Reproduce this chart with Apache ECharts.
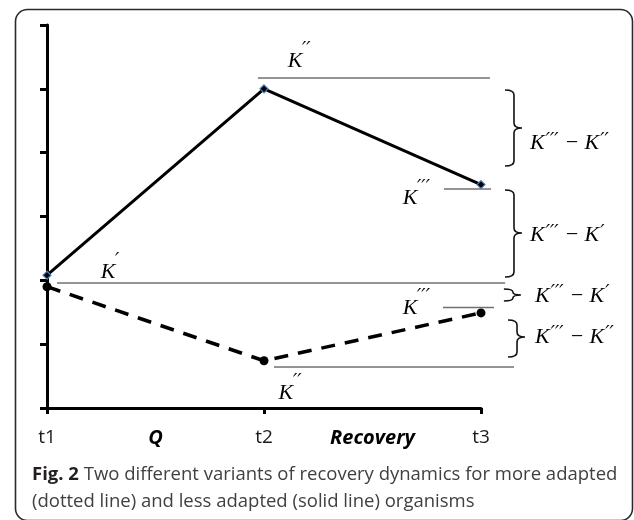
<!DOCTYPE html>
<html><head><meta charset="utf-8">
<script src="https://cdn.jsdelivr.net/npm/echarts@6/dist/echarts.min.js"></script>
<style>html,body{margin:0;padding:0;background:#fff}#c{width:634px;height:520px}</style>
</head><body><div id="c"></div>
<script>
// ---- data ----
const timePoints = ['t1', 't2', 't3'];
const timeX = [0, 1, 2];
const phaseLabels = ['Q', 'Recovery'];
const lessAdapted = [2.08, 5.0, 3.5];   // solid line
const moreAdapted = [1.90, 0.74, 1.49]; // dashed line
const yMin = 0, yMax = 6, yStep = 1;
// reference levels: [xStart, xEnd, level]
const refLines = [
  [0.972, 2.041, 5.17],
  [1.829, 2.046, 3.43],
  [0.046, 2.111, 1.958],
  [1.825, 2.060, 1.574],
  [1.046, 2.152, 0.642]
];
// K labels: [x, y, primes]
const kLabels = [
  [1.143, 5.43, 2],
  [0.281, 2.13, 1],
  [1.673, 3.28, 3],
  [1.673, 1.57, 3],
  [1.101, 0.235, 2]
];
// braces: [x, yTop, yBottom, yTip]
const braces = [
  [2.152, 4.982, 3.791, 4.387],
  [2.152, 3.415, 2.052, 2.742],
  [2.147, 1.864, 1.676, 1.770],
  [2.166, 1.379, 0.799, 1.112]
];
// difference labels: [x, y, primes of first K, primes of second K]
const diffLabels = [
  [2.226, 4.15, 3, 2],
  [2.226, 2.70, 3, 1],
  [2.249, 1.755, 3, 1],
  [2.249, 1.115, 3, 2]
];
const captionBold = 'Fig. 2';
const captionLine1 = ' Two different variants of recovery dynamics for more adapted';
const captionLine2 = '(dotted line) and less adapted (solid line) organisms';

// ---- chart ----
const chart = echarts.init(document.getElementById('c'), null, {renderer: 'canvas'});
const serif = 'italic 22px "Liberation Serif", "DejaVu Serif", serif';
const primeFont = 'italic 19px "DejaVu Serif", "Liberation Serif", serif';
const capSize = 18.5;

function primes(n) { return '\u2032'.repeat(n); }

const option = {
  animation: false,
  backgroundColor: '#fff',
  grid: {left: 47, right: 153, top: 25, bottom: 112, containLabel: false},
  xAxis: [{
    type: 'value', min: 0, max: 2, interval: 1,
    axisLine: {show: true, lineStyle: {color: '#000', width: 3}},
    axisTick: {show: true, length: 6, lineStyle: {color: '#000', width: 3}},
    splitLine: {show: false},
    axisLabel: {
      margin: 20, color: '#1a1a1a', fontSize: 19, fontFamily: '"Open Sans", sans-serif',
      formatter: v => { const i = timeX.indexOf(v); return i >= 0 ? timePoints[i] : ''; }
    }
  }, {
    type: 'value', min: 0, max: 2, interval: 0.5, position: 'bottom',
    axisLine: {show: false}, axisTick: {show: false}, splitLine: {show: false},
    axisLabel: {
      margin: 20, color: '#000', fontSize: 20, fontWeight: 'bold', fontStyle: 'italic',
      fontFamily: '"Open Sans", sans-serif',
      formatter: v => v === 0.5 ? phaseLabels[0] : (v === 1.5 ? phaseLabels[1] : '')
    }
  }],
  yAxis: {
    type: 'value', min: yMin, max: yMax, interval: yStep,
    axisLine: {show: true, lineStyle: {color: '#000', width: 3}},
    axisTick: {show: true, length: 7, lineStyle: {color: '#000', width: 3}},
    splitLine: {show: false},
    axisLabel: {show: false}
  },
  series: [
    {
      type: 'custom', name: 'refLines', clip: false, z: 1,
      data: refLines.map(d => [d[0], d[2]]),
      renderItem: (params, api) => {
        const d = refLines[params.dataIndex];
        const p0 = api.coord([d[0], d[2]]);
        const p1 = api.coord([d[1], d[2]]);
        return {type: 'line', shape: {x1: p0[0], y1: p0[1], x2: p1[0], y2: p1[1]},
          style: {stroke: '#707070', lineWidth: 1.5}};
      }
    },
    {
      type: 'line', name: 'more adapted', data: timeX.map((x, i) => [x, moreAdapted[i]]),
      clip: false, z: 3,
      lineStyle: {color: '#000', width: 3.5, type: [14, 10]},
      symbol: 'circle', symbolSize: 9,
      itemStyle: {color: '#000'}
    },
    {
      type: 'line', name: 'less adapted', data: timeX.map((x, i) => [x, lessAdapted[i]]),
      clip: false, z: 4,
      lineStyle: {color: '#000', width: 3},
      symbol: 'diamond', symbolSize: 8,
      itemStyle: {color: '#000', borderColor: '#4a7ebb', borderWidth: 1.2}
    },
    {
      type: 'custom', name: 'kLabels', clip: false, z: 5,
      data: kLabels.map(d => [d[0], d[1]]),
      renderItem: (params, api) => {
        const d = kLabels[params.dataIndex];
        const p = api.coord([d[0], d[1]]);
        return {type: 'group', children: [
          {type: 'text', x: p[0], y: p[1], style: {text: 'K', font: serif, fill: '#000', align: 'center', verticalAlign: 'middle'}},
          {type: 'text', x: p[0] + 7, y: p[1] - 11, style: {text: primes(d[2]), font: primeFont, fill: '#000', align: 'left', verticalAlign: 'middle'}}
        ]};
      }
    },
    {
      type: 'custom', name: 'braces', clip: false, z: 5,
      data: braces.map(d => [d[0], d[1]]),
      renderItem: (params, api) => {
        const d = braces[params.dataIndex];
        const top = api.coord([d[0], d[1]]);
        const bot = api.coord([d[0], d[2]]);
        const tip = api.coord([d[0], d[3]]);
        const sx = top[0], yt = top[1], yb = bot[1], ym = tip[1];
        const r = Math.min(5, (yb - yt) / 4);
        const w = 9, t = 8;
        const path = 'M' + (sx - w) + ',' + yt + ' Q' + sx + ',' + yt + ' ' + sx + ',' + (yt + r) +
          ' L' + sx + ',' + (ym - r) + ' Q' + sx + ',' + ym + ' ' + (sx + t) + ',' + ym +
          ' Q' + sx + ',' + ym + ' ' + sx + ',' + (ym + r) +
          ' L' + sx + ',' + (yb - r) + ' Q' + sx + ',' + yb + ' ' + (sx - w) + ',' + yb;
        return {type: 'path', shape: {pathData: path}, style: {stroke: '#111', lineWidth: 1.6, fill: null}};
      }
    },
    {
      type: 'custom', name: 'diffLabels', clip: false, z: 5,
      data: diffLabels.map(d => [d[0], d[1]]),
      renderItem: (params, api) => {
        const d = diffLabels[params.dataIndex];
        const p = api.coord([d[0], d[1]]);
        return {type: 'text', x: p[0], y: p[1], style: {
          text: '{k|K}{p|' + primes(d[2]) + '}{k| \u2212 K}{p|' + primes(d[3]) + '}',
          rich: {
            k: {font: serif, fill: '#000', verticalAlign: 'middle', lineHeight: 26},
            p: {font: primeFont, fill: '#000', verticalAlign: 'top', lineHeight: 26, padding: [1, 0, 0, 1]}
          },
          align: 'left', verticalAlign: 'middle'}};
      }
    }
  ],
  graphic: [
    {type: 'rect', left: 13, top: 7, shape: {x: 0, y: 0, width: 617, height: 511, r: 12},
      style: {fill: null, stroke: '#2a2a2a', lineWidth: 1.6}, z: 0, silent: true},
    {type: 'text', x: 32, y: 475, style: {
      rich: {
        b: {font: 'bold ' + capSize + 'px "Open Sans", sans-serif', fill: '#231f20'},
        n: {font: capSize + 'px "Open Sans", sans-serif', fill: '#404040'}
      },
      text: '{b|' + captionBold + '}{n|' + captionLine1 + '}', verticalAlign: 'middle', align: 'left'
    }},
    {type: 'text', x: 32, y: 502, style: {
      font: capSize + 'px "Open Sans", sans-serif', fill: '#404040', text: captionLine2,
      verticalAlign: 'middle', align: 'left'
    }}
  ]
};
chart.setOption(option);
</script></body></html>
